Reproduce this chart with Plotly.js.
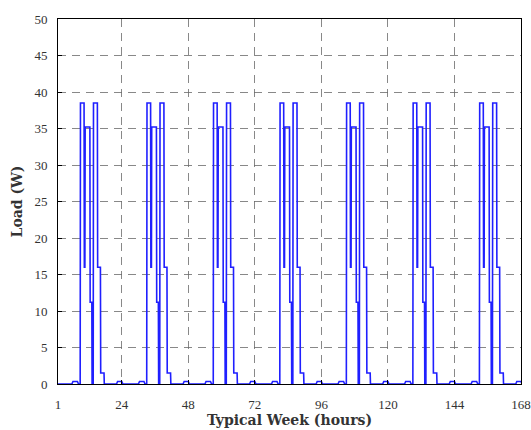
<!DOCTYPE html>
<html>
<head>
<meta charset="utf-8">
<script src="https://cdn.plot.ly/plotly-3.0.1.min.js"></script>
<style>html,body{margin:0;padding:0;background:#fff}#chart{width:531px;height:430px}</style>
</head>
<body>
<div id="chart"></div>
<script>
// Daily load profile (hour of day, load in W); every day of the typical week is identical
const profileHour = [1, 6.0, 6.4, 8.0, 8.4, 9.0, 9.1, 10.4, 10.5, 10.7, 10.8, 12.5, 12.6, 13.2, 13.3, 13.7, 13.8, 15.2, 15.3, 16.3, 16.4, 17.6, 17.7, 22.1, 22.5, 24.0, 24.4];
const profileLoad = [0, 0, 0.35, 0.35, 0, 0, 38.5, 38.5, 16, 16, 35.2, 35.2, 11.2, 11.2, 0, 0, 38.5, 38.5, 16, 16, 1.5, 1.5, 0, 0, 0.35, 0.35, 0];
// Day start offsets (hours) for the 7 days of the week
const dayOffsets = [0, 24, 48, 72, 96, 120, 144];
// Axis tick labels
const xTicks = [1, 24, 48, 72, 96, 120, 144, 168];

const weekHour = [];
const weekLoad = [];
dayOffsets.forEach(off => {
  profileHour.forEach((h, i) => { weekHour.push(off + h); weekLoad.push(profileLoad[i]); });
});

const trace = {
  x: weekHour, y: weekLoad, type: 'scatter', mode: 'lines',
  line: {color: '#1f1fff', width: 1.6}, hoverinfo: 'skip'
};

const serif = '"DejaVu Serif", "Liberation Serif", serif';
const tickSerif = '"Liberation Serif", "DejaVu Serif", serif';
const layout = {
  width: 531, height: 430,
  margin: {l: 58, r: 10, t: 19, b: 46},
  paper_bgcolor: '#fff', plot_bgcolor: '#fff',
  showlegend: false,
  font: {family: serif, color: '#333'},
  xaxis: {
    range: [1, 168], tickvals: xTicks, ticktext: xTicks.map(String),
    showgrid: true, gridcolor: '#6a6a6a', griddash: '8px,6px', gridwidth: 0.8,
    zeroline: false, showline: true, linecolor: '#000', linewidth: 1, mirror: true,
    ticks: 'inside', ticklen: 4, tickcolor: '#000',
    ticklabeloverflow: 'allow', ticklabelstandoff: 8,
    tickfont: {family: tickSerif, size: 13, color: '#333'},
    title: {text: '<b>Typical Week (hours)</b>', font: {family: serif, size: 14, color: '#333'}, standoff: 4}
  },
  yaxis: {
    range: [0, 50], dtick: 5, tick0: 0,
    showgrid: true, gridcolor: '#6a6a6a', griddash: '8px,6px', gridwidth: 0.8,
    zeroline: false, showline: true, linecolor: '#000', linewidth: 1, mirror: true,
    ticks: 'inside', ticklen: 4, tickcolor: '#000',
    ticklabeloverflow: 'allow', ticklabelstandoff: 7,
    tickfont: {family: tickSerif, size: 13, color: '#333'},
    title: {text: '<b>Load (W)</b>', font: {family: serif, size: 14, color: '#333'}, standoff: 8}
  }
};

Plotly.newPlot('chart', [trace], layout, {staticPlot: true, displayModeBar: false});
</script>
</body>
</html>
